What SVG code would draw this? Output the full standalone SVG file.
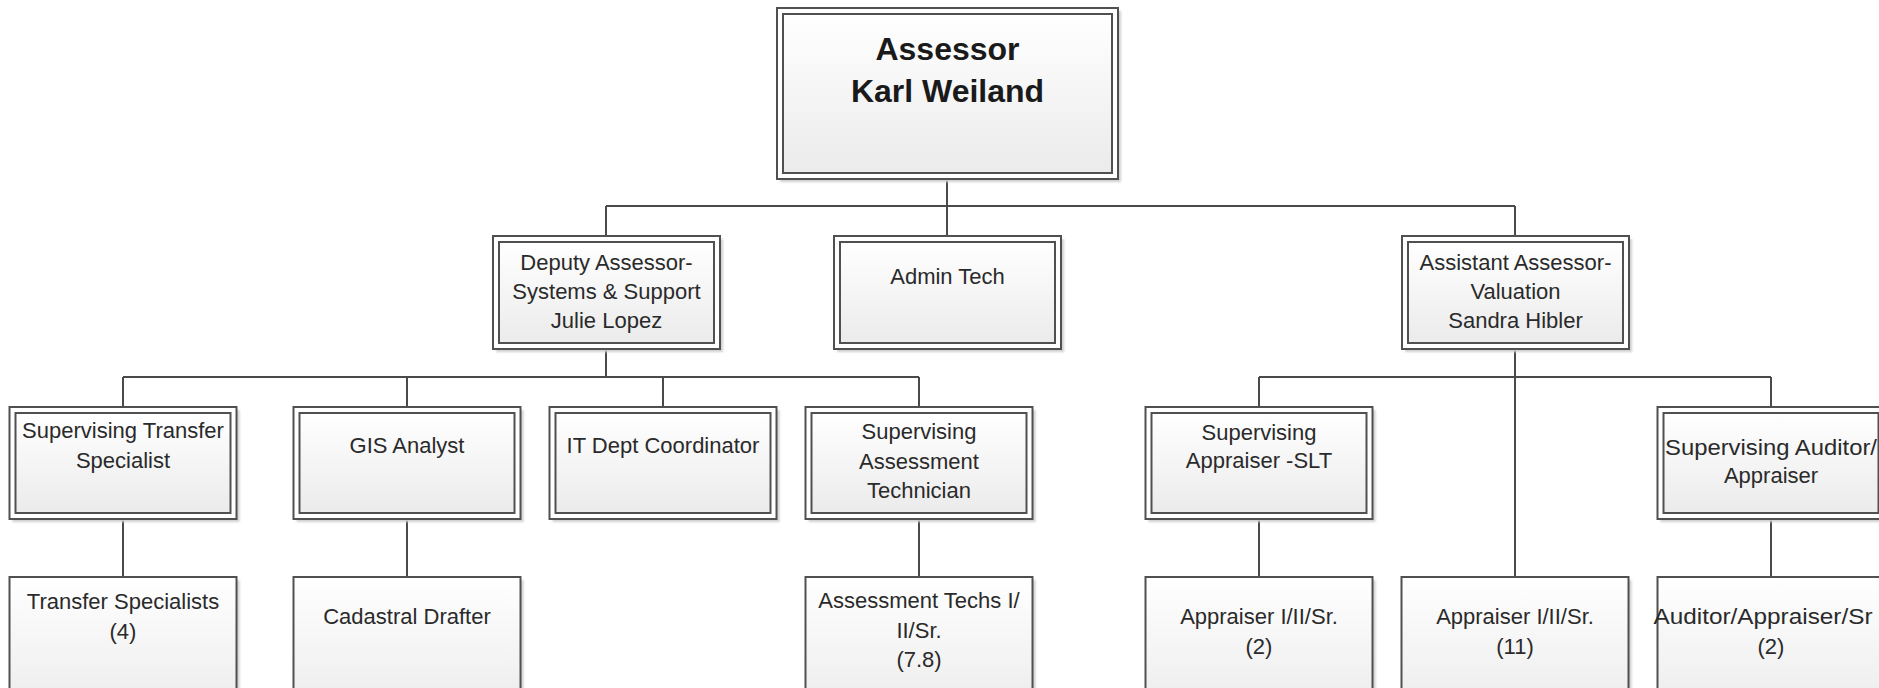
<svg xmlns="http://www.w3.org/2000/svg" width="1879" height="688" viewBox="0 0 1879 688">
<defs>
<linearGradient id="g" x1="0" y1="0" x2="0" y2="1">
<stop offset="0" stop-color="#ffffff"/>
<stop offset="1" stop-color="#ebebeb"/>
</linearGradient>
<filter id="sh" x="-5%" y="-5%" width="115%" height="120%">
<feGaussianBlur stdDeviation="1.2"/>
</filter>
</defs>
<style>
.shadow{fill:#cfcfcf;filter:url(#sh)}
.outer{fill:#ffffff;stroke:#505050;stroke-width:2}
.inner{fill:url(#g);stroke:#505050;stroke-width:2}
.single{fill:url(#g);stroke:#505050;stroke-width:2}
.t{font-family:"Liberation Sans",Arial,sans-serif;font-size:22px;fill:#2a2a2a;text-anchor:middle}
.tb{font-family:"Liberation Sans",Arial,sans-serif;font-size:32px;font-weight:bold;fill:#1a1a1a;text-anchor:middle}
.c{fill:none;stroke:#4a4a4a;stroke-width:2}
</style>
<rect width="1879" height="688" fill="#ffffff"/>

<g id="connectors">
<path class="c" d="M947 180V206M606 206H1515M606 206V236M947 206V236M1515 206V236"/>
<path class="c" d="M606 349V377M123 377H919M123 377V407M407 377V407M663 377V407M919 377V407"/>
<path class="c" d="M1515 349V577M1259 377H1771M1259 377V407M1771 377V407"/>
<path class="c" d="M123 519V577M407 519V577M919 519V577M1259 519V577M1771 519V577"/>
</g>

<g id="assessor">
<rect class="shadow" x="780" y="11" width="341" height="171"/>
<rect class="outer" x="777" y="8" width="341" height="171"/>
<rect class="inner" x="783" y="14" width="329" height="159"/>
<text class="tb" x="947.5" y="60">Assessor</text>
<text class="tb" x="947.5" y="102">Karl Weiland</text>
</g>

<g id="deputy">
<rect class="shadow" x="496" y="239" width="227" height="113"/>
<rect class="outer" x="493" y="236" width="227" height="113"/>
<rect class="inner" x="499" y="242" width="215" height="101"/>
<text class="t" x="606.5" y="270">Deputy Assessor-</text>
<text class="t" x="606.5" y="299">Systems &amp; Support</text>
<text class="t" x="606.5" y="328">Julie Lopez</text>
</g>

<g id="admin-tech">
<rect class="shadow" x="837" y="239" width="227" height="113"/>
<rect class="outer" x="834" y="236" width="227" height="113"/>
<rect class="inner" x="840" y="242" width="215" height="101"/>
<text class="t" x="947.5" y="284">Admin Tech</text>
</g>

<g id="assistant">
<rect class="shadow" x="1405" y="239" width="227" height="113"/>
<rect class="outer" x="1402" y="236" width="227" height="113"/>
<rect class="inner" x="1408" y="242" width="215" height="101"/>
<text class="t" x="1515.5" y="270">Assistant Assessor-</text>
<text class="t" x="1515.5" y="299">Valuation</text>
<text class="t" x="1515.5" y="328">Sandra Hibler</text>
</g>

<g id="sup-transfer">
<rect class="shadow" x="12.5" y="410" width="227" height="112"/>
<rect class="outer" x="9.5" y="407" width="227" height="112"/>
<rect class="inner" x="15.5" y="413" width="215" height="100"/>
<text class="t" x="123" y="438">Supervising Transfer</text>
<text class="t" x="123" y="468">Specialist</text>
</g>

<g id="gis">
<rect class="shadow" x="296.5" y="410" width="227" height="112"/>
<rect class="outer" x="293.5" y="407" width="227" height="112"/>
<rect class="inner" x="299.5" y="413" width="215" height="100"/>
<text class="t" x="407" y="453">GIS Analyst</text>
</g>

<g id="it-dept">
<rect class="shadow" x="552.5" y="410" width="227" height="112"/>
<rect class="outer" x="549.5" y="407" width="227" height="112"/>
<rect class="inner" x="555.5" y="413" width="215" height="100"/>
<text class="t" x="663" y="453">IT Dept Coordinator</text>
</g>

<g id="sup-assessment">
<rect class="shadow" x="808.5" y="410" width="227" height="112"/>
<rect class="outer" x="805.5" y="407" width="227" height="112"/>
<rect class="inner" x="811.5" y="413" width="215" height="100"/>
<text class="t" x="919" y="439">Supervising</text>
<text class="t" x="919" y="469">Assessment</text>
<text class="t" x="919" y="498">Technician</text>
</g>

<g id="sup-appraiser">
<rect class="shadow" x="1148.5" y="410" width="227" height="112"/>
<rect class="outer" x="1145.5" y="407" width="227" height="112"/>
<rect class="inner" x="1151.5" y="413" width="215" height="100"/>
<text class="t" x="1259" y="440">Supervising</text>
<text class="t" x="1259" y="468">Appraiser -SLT</text>
</g>

<g id="sup-auditor">
<rect class="shadow" x="1660.5" y="410" width="227" height="112"/>
<rect class="outer" x="1657.5" y="407" width="227" height="112"/>
<rect class="inner" x="1663.5" y="413" width="215" height="100"/>
<text class="t" x="1771" y="455" textLength="212" lengthAdjust="spacingAndGlyphs">Supervising Auditor/</text>
<text class="t" x="1771" y="483">Appraiser</text>
</g>

<g id="transfer-specialists">
<rect class="shadow" x="12.5" y="580" width="227" height="140"/>
<rect class="single" x="9.5" y="577" width="227" height="140"/>
<text class="t" x="123" y="609">Transfer Specialists</text>
<text class="t" x="123" y="639">(4)</text>
</g>

<g id="cadastral">
<rect class="shadow" x="296.5" y="580" width="227" height="140"/>
<rect class="single" x="293.5" y="577" width="227" height="140"/>
<text class="t" x="407" y="624">Cadastral Drafter</text>
</g>

<g id="assessment-techs">
<rect class="shadow" x="808.5" y="580" width="227" height="140"/>
<rect class="single" x="805.5" y="577" width="227" height="140"/>
<text class="t" x="919" y="608">Assessment Techs I/</text>
<text class="t" x="919" y="638">II/Sr.</text>
<text class="t" x="919" y="667">(7.8)</text>
</g>

<g id="appraiser-2">
<rect class="shadow" x="1148.5" y="580" width="227" height="140"/>
<rect class="single" x="1145.5" y="577" width="227" height="140"/>
<text class="t" x="1259" y="624">Appraiser I/II/Sr.</text>
<text class="t" x="1259" y="654">(2)</text>
</g>

<g id="appraiser-11">
<rect class="shadow" x="1404.5" y="580" width="227" height="140"/>
<rect class="single" x="1401.5" y="577" width="227" height="140"/>
<text class="t" x="1515" y="624">Appraiser I/II/Sr.</text>
<text class="t" x="1515" y="654">(11)</text>
</g>

<g id="auditor-appraiser">
<rect class="shadow" x="1660.5" y="580" width="227" height="140"/>
<rect class="single" x="1657.5" y="577" width="227" height="140"/>
<text class="t" x="1763" y="624" textLength="219" lengthAdjust="spacingAndGlyphs">Auditor/Appraiser/Sr</text>
<text class="t" x="1771" y="654">(2)</text>
</g>
</svg>
